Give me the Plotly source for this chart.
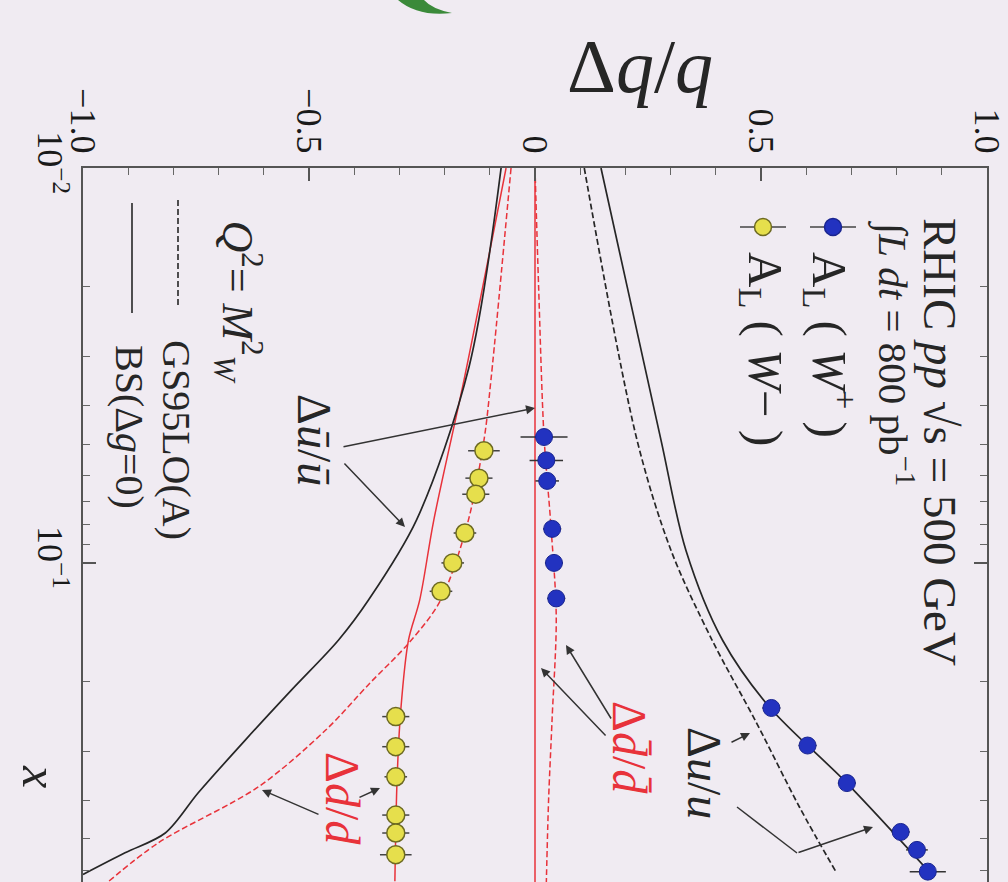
import plotly.graph_objects as go

# ---- model curves: Bjorken x  ->  polarisation  dq/q ----
bs_u_x = [0.01, 0.02, 0.049, 0.093, 0.157, 0.232, 0.361, 0.609]
bs_u_v = [0.146, 0.204, 0.279, 0.334, 0.415, 0.519, 0.69, 0.874]

gs_u_x = [0.01, 0.049, 0.093, 0.157, 0.254, 0.415, 0.609]
gs_u_v = [0.109, 0.226, 0.301, 0.392, 0.49, 0.585, 0.667]

bs_ubar_x = [0.01, 0.0319, 0.0778, 0.124, 0.157, 0.21, 0.281, 0.382, 0.483, 0.542, 0.615]
bs_ubar_v = [-0.075, -0.146, -0.262, -0.368, -0.435, -0.539, -0.641, -0.745, -0.818, -0.907, -1.0]

bs_d_x = [0.01, 0.0344, 0.078, 0.124, 0.157, 0.236, 0.35, 0.64]
bs_d_v = [-0.064, -0.157, -0.224, -0.255, -0.28, -0.297, -0.305, -0.31]

gs_d_x = [0.01, 0.034, 0.049, 0.08, 0.125, 0.159, 0.2014, 0.265, 0.369, 0.512, 0.643]
gs_d_v = [-0.053, -0.097, -0.113, -0.15, -0.21, -0.278, -0.365, -0.463, -0.612, -0.834, -0.945]

gs_dbar_x = [0.01, 0.02, 0.048, 0.08, 0.137, 0.246, 0.4, 0.65]
gs_dbar_v = [0.0, 0.008, 0.02, 0.035, 0.047, 0.038, 0.03, 0.025]

bs_dbar_x = [0.01, 0.7]
bs_dbar_v = [0.0, 0.0]

# ---- projected A_L measurements ----
wplus_x = [0.048, 0.055, 0.062, 0.082, 0.1, 0.123, 0.233, 0.29, 0.361, 0.48, 0.533, 0.605]
wplus_v = [0.02, 0.025, 0.027, 0.038, 0.042, 0.047, 0.523, 0.603, 0.69, 0.809, 0.845, 0.869]
wplus_e = [0.052, 0.037, 0.026, 0.02, 0.02, 0.02, 0.02, 0.02, 0.02, 0.02, 0.024, 0.04]

wminus_x = [0.052, 0.061, 0.067, 0.084, 0.1, 0.118, 0.245, 0.292, 0.348, 0.435, 0.483, 0.548]
wminus_v = [-0.113, -0.124, -0.131, -0.155, -0.182, -0.208, -0.308, -0.308, -0.308, -0.308, -0.308, -0.308]
wminus_e = [0.035, 0.03, 0.03, 0.025, 0.025, 0.025, 0.03, 0.03, 0.025, 0.03, 0.03, 0.035]

dq_ticks = [-1.0, -0.5, 0.0, 0.5, 1.0]
dq_ticktext = ["\u22121.0", "\u22120.5", "0", "0.5", "1.0"]
x_ticks = [0.01, 0.1, 1.0]
x_ticktext = ["10<sup>\u22122</sup>", "10<sup>\u22121</sup>", "1"]
x_minor = [0.02, 0.03, 0.04, 0.05, 0.06, 0.07, 0.08, 0.09,
           0.2, 0.3, 0.4, 0.5, 0.6, 0.7, 0.8, 0.9]

BLACK = "#262626"
RED = "#e8323a"
BG = "#f0ebf2"
SERIF = "Liberation Serif"

# plot-area frame in page pixels
L, R, T, B = 83, 987, 168, 882


def fx(px):
    return (px - L) / (R - L)


def fy(py):
    return (B - py) / (B - T)


fig = go.Figure()


def curve(xs, vs, color, dash, width=1.7):
    fig.add_trace(go.Scatter(
        x=vs, y=xs, mode="lines",
        line=dict(color=color, width=width, dash=dash, shape="spline", smoothing=0.9),
        hoverinfo="skip", showlegend=False))


curve(bs_dbar_x, bs_dbar_v, RED, "solid", 1.5)
curve(gs_dbar_x, gs_dbar_v, RED, "6px,3px", 1.5)
curve(bs_d_x, bs_d_v, RED, "solid", 1.5)
curve(gs_d_x, gs_d_v, RED, "6px,3px", 1.5)
curve(bs_ubar_x, bs_ubar_v, BLACK, "solid")
curve(bs_u_x, bs_u_v, BLACK, "solid")
curve(gs_u_x, gs_u_v, BLACK, "6px,3px")

fig.add_trace(go.Scatter(
    x=wminus_v, y=wminus_x, mode="markers",
    error_x=dict(type="data", array=wminus_e, visible=True, color="#444", thickness=1.5, width=0),
    marker=dict(size=18, color="#e6df4c", line=dict(color="#6d6a22", width=1.5)),
    hoverinfo="skip", showlegend=False))
fig.add_trace(go.Scatter(
    x=wplus_v, y=wplus_x, mode="markers",
    error_x=dict(type="data", array=wplus_e, visible=True, color="#333", thickness=1.5, width=0),
    marker=dict(size=17, color="#2232c0", line=dict(color="#1a2590", width=1)),
    hoverinfo="skip", showlegend=False))

ann = []
shapes = []


def label(px, py, text, size, color=BLACK, angle=90, yanchor="middle", xanchor="center"):
    ann.append(dict(x=fx(px), y=fy(py), xref="paper", yref="paper", text=text,
                    showarrow=False, textangle=angle, xanchor=xanchor, yanchor=yanchor,
                    font=dict(family=SERIF, size=size, color=color)))


def arrow(tx, ty, hx, hy):
    ann.append(dict(x=fx(hx), y=fy(hy), xref="paper", yref="paper", text="",
                    showarrow=True, ax=tx - hx, ay=ty - hy, arrowhead=2, arrowsize=1.2,
                    arrowwidth=1.5, arrowcolor="#333", standoff=0, startstandoff=0))


# axis titles
label(640, 66, "\u0394<i>q</i>/<i>q</i>", 76, angle=0)
label(40, 776, "<i>x</i>", 50)

# legend block
label(940, 216, "RHIC <i>pp</i> \u221as = 500 GeV", 47, yanchor="top")
label(895, 218, "\u222b<i>L</i> <i>dt</i> = 800 pb<sup>\u22121</sup>", 41, yanchor="top")
label(831, 250, "A<sub>L</sub> ( <i>W</i><sup>+</sup> )", 49, yanchor="top")
label(763, 250, "A<sub>L</sub> ( <i>W</i>\u2212 )", 49, yanchor="top")
label(238, 218, "<i>Q</i><sup>2</sup>= <i>M</i><sup>2</sup><sub><i>W</i></sub>", 44, yanchor="top")
label(177, 338, "GS95LO(A)", 40, yanchor="top")
label(130, 343, "BS(\u0394<i>g</i>=0)", 40, yanchor="top")

for cx, fill, edge in [(833, "#2232c0", "#1a2590"), (763, "#e6df4c", "#6d6a22")]:
    shapes.append(dict(type="line", xref="paper", yref="paper",
                       x0=fx(cx - 23), x1=fx(cx + 23), y0=fy(227), y1=fy(227),
                       line=dict(color="#444", width=1.5)))
    shapes.append(dict(type="circle", xref="paper", yref="paper",
                       xsizemode="pixel", ysizemode="pixel",
                       xanchor=fx(cx), yanchor=fy(227), x0=-8.5, x1=8.5, y0=-8.5, y1=8.5,
                       fillcolor=fill, line=dict(color=edge, width=1.5)))

shapes.append(dict(type="line", xref="paper", yref="paper", x0=fx(178), x1=fx(178),
                   y0=fy(200), y1=fy(307), line=dict(color=BLACK, width=1.6, dash="6px,3px")))
shapes.append(dict(type="line", xref="paper", yref="paper", x0=fx(132), x1=fx(132),
                   y0=fy(203), y1=fy(313), line=dict(color=BLACK, width=1.6)))

# curve labels and pointers
label(315, 440, "\u0394<i>u\u0304</i>/<i>u\u0304</i>", 48)
arrow(342, 447, 535, 408)
arrow(343, 462, 405, 527)

label(630, 747, "\u0394<i>d\u0304</i>/<i>d\u0304</i>", 48, color=RED)
arrow(607, 737, 541, 668)
arrow(612, 720, 566, 645)

label(705, 773, "\u0394<i>u</i>/<i>u</i>", 48)
arrow(730, 743, 750, 733)
shapes.append(dict(type="line", xref="paper", yref="paper", x0=fx(737), y0=fy(807),
                   x1=fx(797), y1=fy(853), line=dict(color="#333", width=1.5)))
arrow(797, 853, 873, 827)

label(343, 798, "\u0394<i>d</i>/<i>d</i>", 48, color=RED)
arrow(320, 815, 262, 790)
arrow(358, 798, 380, 788)

# green brush-stroke tip cut by the top edge
shapes.append(dict(type="path", xref="paper", yref="paper",
                   path=(f"M {fx(398)},{fy(0)} Q {fx(418)},{fy(17)} {fx(452)},{fy(13)} "
                         f"Q {fx(432)},{fy(9)} {fx(424)},{fy(0)} Z"),
                   fillcolor="#3b8a3a", line=dict(width=0)))

fig.update_layout(
    width=1008, height=882,
    margin=dict(l=L, r=1008 - R, t=T, b=0),
    paper_bgcolor=BG, plot_bgcolor=BG,
    annotations=ann, shapes=shapes,
    showlegend=False,
    xaxis=dict(
        range=[-1, 1], side="top",
        showline=True, linecolor="#555", linewidth=2, mirror=False,
        showgrid=False, zeroline=False,
        tickmode="array", tickvals=dq_ticks, ticktext=dq_ticktext, tickangle=90,
        ticks="inside", ticklen=13, tickwidth=1.5, tickcolor="#555",
        tickfont=dict(family=SERIF, size=36, color="#1a1a1a"),
        minor=dict(ticks="inside", ticklen=7, tickwidth=1.2, tickcolor="#666", dtick=0.1, showgrid=False),
    ),
    yaxis=dict(
        type="log", range=[-0.192, -2],
        showline=True, linecolor="#555", linewidth=2, mirror="ticks",
        showgrid=False, zeroline=False,
        tickmode="array", tickvals=x_ticks, ticktext=x_ticktext, tickangle=90,
        ticks="inside", ticklen=13, tickwidth=1.5, tickcolor="#555",
        tickfont=dict(family=SERIF, size=36, color="#1a1a1a"),
        minor=dict(ticks="inside", ticklen=7, tickwidth=1.2, tickcolor="#666",
                   tickmode="array", tickvals=x_minor, showgrid=False),
    ),
)

fig.write_html("out.html")
